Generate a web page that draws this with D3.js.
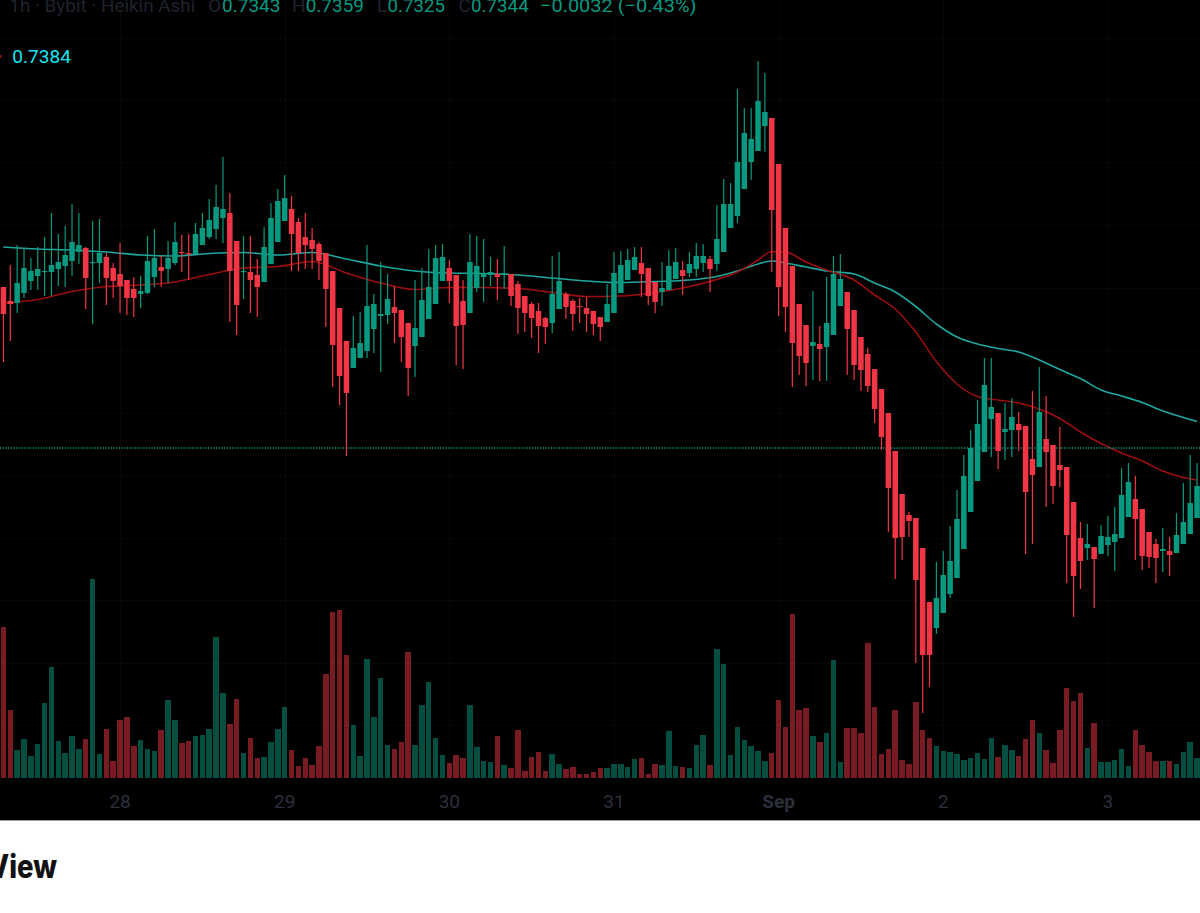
<!DOCTYPE html>
<html><head><meta charset="utf-8">
<script src="https://cdn.jsdelivr.net/npm/d3@7"></script>
<style>html,body{margin:0;padding:0;background:#fff;overflow:hidden} svg{display:block}</style>
</head><body>
<svg id="c" width="1200" height="913"></svg>
<script>
// ---- Heikin Ashi 1h candles (price) ----
const open = [0.7505,0.7491,0.7489,0.7499,0.7511,0.7516,0.7520,0.7520,0.7523,0.7526,0.7531,0.7540,0.7544,0.7529,0.7529,0.7535,0.7524,0.7518,0.7512,0.7503,
0.7498,0.7499,0.7515,0.7525,0.7523,0.7529,0.7540,0.7539,0.7538,0.7547,0.7555,0.7563,0.7574,0.7579,0.7551,0.7520,0.7520,0.7517,0.7510,0.7528,
0.7550,0.7571,0.7583,0.7570,0.7555,0.7552,0.7548,0.7539,0.7521,0.7484,0.7451,0.7424,0.7434,0.7441,0.7463,0.7476,0.7477,0.7485,0.7482,0.7469,
0.7446,0.7455,0.7473,0.7488,0.7511,0.7524,0.7517,0.7491,0.7479,0.7504,0.7515,0.7517,0.7518,0.7517,0.7518,0.7508,0.7496,0.7488,0.7481,0.7474,
0.7469,0.7483,0.7498,0.7491,0.7486,0.7484,0.7481,0.7475,0.7470,0.7479,0.7499,0.7512,0.7522,0.7529,0.7524,0.7510,0.7500,0.7502,0.7513,0.7522,
0.7519,0.7523,0.7529,0.7533,0.7528,0.7540,0.7564,0.7576,0.7603,0.7630,0.7641,0.7666,0.7674,0.7628,0.7564,0.7526,0.7488,0.7467,0.7446,0.7448,
0.7445,0.7457,0.7486,0.7500,0.7482,0.7455,0.7438,0.7423,0.7403,0.7379,0.7341,0.7298,0.7277,0.7274,0.7244,0.7190,0.7164,0.7179,0.7198,0.7214,
0.7243,0.7280,0.7311,0.7340,0.7373,0.7379,0.7360,0.7362,0.7368,0.7366,0.7333,0.7325,0.7353,0.7347,0.7327,0.7325,0.7290,0.7254,0.7244,0.7245,
0.7238,0.7247,0.7250,0.7254,0.7275,0.7293,0.7283,0.7260,0.7248,0.7241,0.7241,0.7239,0.7248,0.7258,0.7274];
const high = [0.7505,0.7527,0.7547,0.7544,0.7534,0.7545,0.7555,0.7579,0.7558,0.7566,0.7588,0.7579,0.7545,0.7571,0.7573,0.7539,0.7529,0.7549,0.7512,0.7515,
0.7516,0.7556,0.7563,0.7536,0.7551,0.7570,0.7557,0.7558,0.7569,0.7579,0.7593,0.7607,0.7635,0.7599,0.7551,0.7556,0.7556,0.7533,0.7565,0.7589,
0.7603,0.7617,0.7596,0.7574,0.7579,0.7564,0.7550,0.7539,0.7521,0.7484,0.7451,0.7476,0.7480,0.7547,0.7498,0.7530,0.7518,0.7506,0.7482,0.7469,
0.7512,0.7524,0.7543,0.7547,0.7548,0.7532,0.7517,0.7512,0.7558,0.7556,0.7553,0.7535,0.7533,0.7546,0.7518,0.7511,0.7496,0.7490,0.7489,0.7475,
0.7536,0.7540,0.7500,0.7493,0.7494,0.7495,0.7481,0.7475,0.7508,0.7540,0.7541,0.7543,0.7545,0.7545,0.7524,0.7510,0.7530,0.7542,0.7544,0.7531,
0.7540,0.7549,0.7548,0.7536,0.7587,0.7613,0.7609,0.7703,0.7684,0.7684,0.7731,0.7719,0.7674,0.7628,0.7564,0.7526,0.7488,0.7467,0.7501,0.7466,
0.7515,0.7536,0.7538,0.7500,0.7482,0.7455,0.7444,0.7423,0.7403,0.7379,0.7341,0.7298,0.7280,0.7274,0.7244,0.7190,0.7230,0.7241,0.7266,0.7302,
0.7337,0.7362,0.7392,0.7434,0.7434,0.7379,0.7389,0.7394,0.7380,0.7366,0.7401,0.7425,0.7396,0.7347,0.7365,0.7325,0.7290,0.7270,0.7268,0.7245,
0.7267,0.7276,0.7285,0.7324,0.7329,0.7316,0.7283,0.7260,0.7253,0.7264,0.7255,0.7279,0.7309,0.7337,0.7329];
const low = [0.7430,0.7451,0.7479,0.7494,0.7502,0.7502,0.7496,0.7496,0.7506,0.7505,0.7516,0.7528,0.7483,0.7468,0.7509,0.7487,0.7494,0.7479,0.7477,0.7475,
0.7484,0.7498,0.7505,0.7505,0.7509,0.7527,0.7520,0.7512,0.7538,0.7547,0.7553,0.7553,0.7549,0.7470,0.7457,0.7493,0.7479,0.7475,0.7510,0.7528,
0.7550,0.7571,0.7521,0.7521,0.7523,0.7523,0.7512,0.7465,0.7405,0.7387,0.7336,0.7424,0.7434,0.7434,0.7439,0.7420,0.7468,0.7449,0.7430,0.7396,
0.7415,0.7455,0.7473,0.7488,0.7511,0.7489,0.7427,0.7423,0.7479,0.7500,0.7490,0.7506,0.7492,0.7503,0.7486,0.7458,0.7460,0.7454,0.7439,0.7448,
0.7459,0.7483,0.7473,0.7461,0.7469,0.7460,0.7457,0.7451,0.7470,0.7479,0.7499,0.7512,0.7522,0.7495,0.7487,0.7479,0.7486,0.7502,0.7513,0.7497,
0.7515,0.7515,0.7520,0.7500,0.7521,0.7540,0.7564,0.7569,0.7603,0.7612,0.7641,0.7640,0.7520,0.7476,0.7460,0.7405,0.7417,0.7406,0.7412,0.7411,
0.7411,0.7457,0.7486,0.7417,0.7412,0.7401,0.7400,0.7369,0.7342,0.7260,0.7213,0.7232,0.7255,0.7129,0.7079,0.7105,0.7158,0.7179,0.7194,0.7214,
0.7243,0.7280,0.7311,0.7340,0.7335,0.7323,0.7332,0.7335,0.7341,0.7238,0.7248,0.7325,0.7285,0.7288,0.7305,0.7209,0.7175,0.7203,0.7232,0.7184,
0.7238,0.7236,0.7221,0.7254,0.7275,0.7232,0.7222,0.7224,0.7209,0.7220,0.7216,0.7239,0.7248,0.7258,0.7274];
const close = [0.7478,0.7488,0.7509,0.7524,0.7521,0.7523,0.7521,0.7527,0.7530,0.7537,0.7550,0.7547,0.7514,0.7530,0.7539,0.7514,0.7511,0.7506,0.7494,0.7494,
0.7501,0.7531,0.7534,0.7521,0.7534,0.7550,0.7539,0.7538,0.7558,0.7564,0.7572,0.7585,0.7583,0.7521,0.7487,0.7521,0.7512,0.7505,0.7545,0.7574,
0.7591,0.7594,0.7558,0.7539,0.7547,0.7543,0.7531,0.7503,0.7447,0.7416,0.7399,0.7444,0.7449,0.7486,0.7488,0.7478,0.7493,0.7479,0.7455,0.7424,
0.7464,0.7492,0.7505,0.7534,0.7535,0.7511,0.7466,0.7467,0.7530,0.7526,0.7519,0.7520,0.7515,0.7519,0.7496,0.7484,0.7479,0.7474,0.7466,0.7465,
0.7498,0.7511,0.7485,0.7478,0.7485,0.7478,0.7468,0.7465,0.7488,0.7519,0.7527,0.7532,0.7535,0.7518,0.7496,0.7490,0.7504,0.7526,0.7530,0.7516,
0.7528,0.7536,0.7536,0.7523,0.7553,0.7588,0.7588,0.7630,0.7659,0.7653,0.7691,0.7680,0.7582,0.7505,0.7485,0.7449,0.7436,0.7429,0.7450,0.7443,
0.7469,0.7518,0.7513,0.7463,0.7427,0.7422,0.7406,0.7383,0.7355,0.7304,0.7254,0.7255,0.7271,0.7212,0.7137,0.7137,0.7194,0.7217,0.7231,0.7273,
0.7316,0.7344,0.7368,0.7407,0.7385,0.7341,0.7363,0.7375,0.7362,0.7300,0.7317,0.7380,0.7340,0.7306,0.7322,0.7257,0.7216,0.7231,0.7248,0.7233,
0.7256,0.7255,0.7258,0.7297,0.7310,0.7273,0.7236,0.7235,0.7234,0.7243,0.7237,0.7257,0.7270,0.7289,0.7306];
// volume (thousands)
const volume = [1507,680,280,387,220,340,747,1107,370,247,420,290,387,1987,240,490,173,580,610,317,
377,287,270,483,780,580,353,370,423,430,490,1407,853,537,793,253,397,203,210,357,
490,710,280,120,203,130,323,1043,1660,1680,1227,530,220,1190,610,1000,330,287,357,1257,
330,727,960,400,233,150,233,197,733,310,173,163,423,130,103,483,73,210,263,73,
240,137,90,110,40,40,60,97,97,143,137,110,187,197,40,143,130,470,120,110,
97,330,430,130,1293,1137,233,513,377,317,270,167,250,780,507,1637,680,697,420,360,
453,1177,157,497,497,453,1347,707,237,287,680,180,143,757,483,400,323,270,263,240,
180,197,250,190,400,210,330,277,220,387,580,447,277,150,483,900,770,847,300,550,
157,157,180,287,120,477,330,263,167,173,167,143,257,357,197];
// moving averages read at sample bars
const maIdx = [0,5,10,15,20,25,30,35,40,45,50,55,60,65,70,75,80,85,90,95,100,104,107,110,112,114,117,120,124,127,130,133,136,139,142,145,148,151,154,157,160,163,166,169,172,174];
const maSlow = [0.7545,0.7543,0.7542,0.7540,0.7537,0.7536,0.75385,0.75395,0.7537,0.75395,0.7533,0.7526,0.7521,0.7519,0.75185,0.7517,0.7514,0.7511,0.75095,0.75105,
0.7512,0.75155,0.7521,0.7528,0.7531,0.7529,0.7525,0.7521,0.7518,0.7509,0.7500,0.74855,0.7468,0.7455,0.7448,0.74435,0.7440,0.7432,0.74225,0.74135,0.7402,0.7396,0.73895,0.7381,0.73745,0.73705];
const maFast = [0.7489,0.74925,0.75005,0.75055,0.7507,0.7510,0.75175,0.7524,0.75255,0.75305,0.7519,0.7509,0.75025,0.75045,0.75045,0.75035,0.74995,0.74955,0.7496,0.74995,
0.75055,0.75125,0.7520,0.7532,0.75405,0.7540,0.7530,0.7522,0.7512,0.7497,0.7483,0.7460,0.74305,0.7408,0.73955,0.7392,0.7389,0.7383,0.73735,0.7360,0.73485,0.7339,0.7331,0.7321,0.73145,0.7312];
const dayTickIdx = [17,41,65,89,113,137,161];
const dayTickLabels = ["28","29","30","31","Sep","2","3"];
const gridLevels = [0.77545,0.7692,0.76295,0.7567,0.75045,0.7442,0.73795,0.7317,0.72545,0.7192,0.71295,0.7067];
const lastPrice = 0.7344;
const legendValue = "0.7384";
const headerInfo = "1h · Bybit · Heikin Ashi";
const ohlcLabels = ["O","H","L","C"];
const ohlcValues = ["0.7343","0.7359","0.7325","0.7344"];
const changeText = "−0.0032 (−0.43%)";

const UP = "#089981", DOWN = "#f23645";
const svg = d3.select("#c");
const N = open.length;

const x = d3.scaleBand().domain(d3.range(N)).range([0, 1200.5]).paddingInner(0.2).paddingOuter(0.1);
const bw = x.bandwidth();
const cx = i => x(i) + bw / 2;
const y = d3.scaleLinear().domain([0.7102, 0.7732]).range([690, 60]);
const vy = d3.scaleLinear().domain([0, 2000]).range([778, 578]);

// backgrounds
svg.append("rect").attr("x",0).attr("y",0).attr("width",1200).attr("height",820).attr("fill","#000");
svg.append("rect").attr("x",0).attr("y",820).attr("width",1200).attr("height",93).attr("fill","#fff");
svg.append("line").attr("x1",0).attr("x2",1200).attr("y1",820.5).attr("y2",820.5).attr("stroke","#9a9a9a").attr("stroke-width",1);

// grid (barely visible)
const grid = svg.append("g").attr("stroke","#070707").attr("stroke-width",1);
grid.selectAll("line.h").data(gridLevels).join("line").attr("class","h")
  .attr("x1",0).attr("x2",1200).attr("y1",d=>Math.round(y(d))+0.5).attr("y2",d=>Math.round(y(d))+0.5);
grid.selectAll("line.v").data(dayTickIdx).join("line").attr("class","v")
  .attr("x1",d=>Math.round(cx(d))+0.5).attr("x2",d=>Math.round(cx(d))+0.5).attr("y1",0).attr("y2",780);

// volume
svg.append("g").selectAll("rect").data(volume).join("rect")
  .attr("x",(d,i)=>x(i)).attr("width",bw)
  .attr("y",d=>vy(d)).attr("height",d=>778-vy(d))
  .attr("fill",(d,i)=> close[i] >= open[i] ? UP : DOWN).attr("fill-opacity",0.5)
  .attr("shape-rendering","crispEdges");

// moving averages
const maLine = d3.line().x(d=>cx(d[0])).y(d=>y(d[1])).curve(d3.curveMonotoneX);
svg.append("path").datum(maIdx.map((d,k)=>[d,maSlow[k]])).attr("d",maLine)
  .attr("fill","none").attr("stroke","#1ea69f").attr("stroke-width",1.6);
svg.append("path").datum(maIdx.map((d,k)=>[d,maFast[k]])).attr("d",maLine)
  .attr("fill","none").attr("stroke","#9c0e0e").attr("stroke-width",1.6);

// last price line
svg.append("line").attr("x1",0).attr("x2",1200).attr("y1",y(lastPrice)).attr("y2",y(lastPrice))
  .attr("stroke",UP).attr("stroke-width",1.5).attr("stroke-dasharray","1.3 1.4");

// candles
const cg = svg.append("g");
const candles = cg.selectAll("g").data(d3.range(N)).join("g")
  .attr("fill",i=> close[i] >= open[i] ? UP : DOWN)
  .attr("stroke",i=> close[i] >= open[i] ? UP : DOWN);
candles.append("line")
  .attr("x1",i=>cx(i)).attr("x2",i=>cx(i))
  .attr("y1",i=>y(high[i])).attr("y2",i=>y(low[i])).attr("stroke-width",1.2);
candles.append("rect")
  .attr("x",i=>x(i)).attr("width",bw)
  .attr("y",i=>y(Math.max(open[i],close[i])))
  .attr("height",i=>Math.max(1.2, Math.abs(y(open[i])-y(close[i]))))
  .attr("stroke","none");

// x axis
const axis = d3.axisBottom(x).tickValues(dayTickIdx).tickFormat(d=>dayTickLabels[dayTickIdx.indexOf(d)]).tickSize(0).tickPadding(0);
const ax = svg.append("g").attr("transform","translate(0,794)").call(axis);
ax.select(".domain").remove();
ax.selectAll("text").attr("fill","#2c303c").attr("font-family","Roboto, sans-serif").attr("font-size",19)
  .attr("dy","0.71em").attr("font-weight",d=>dayTickLabels[dayTickIdx.indexOf(d)]==="Sep"?700:400);

// header
const hf = "Roboto, sans-serif";
function txt(s, x0, y0, w, fill, size, weight){
  const t = svg.append("text").attr("x",x0).attr("y",y0).text(s).attr("fill",fill)
    .attr("font-family",hf).attr("font-size",size).attr("font-weight",weight||400);
  if (w) t.attr("textLength",w).attr("lengthAdjust","spacingAndGlyphs");
  return t;
}
const HY = 11.7, HS = 18.7, DIM = "#1f232e";
txt(headerInfo, 9.3, HY, 186, DIM, HS);
const lx = [208.3,292,377,458.4], vx = [222,305.7,387.6,471], vw = [58.5,58.3,57.4,57.7];
ohlcLabels.forEach((l,k)=>{ txt(l, lx[k], HY, null, DIM, HS); txt(ohlcValues[k], vx[k], HY, vw[k], UP, HS); });
txt(changeText, 540, HY, 156.5, UP, HS);
txt(legendValue, 12.3, 63.3, 58.7, "#16e4f4", HS);
svg.append("rect").attr("x",0).attr("y",55).attr("width",1.5).attr("height",3).attr("fill","#8a1a1a");

// watermark text below chart (only its tail is inside the frame)
const wm = svg.append("text").attr("x",0).attr("y",878).text("TradingView")
  .attr("fill","#111").attr("font-family","Inter, 'Open Sans', sans-serif").attr("font-weight",800).attr("font-size",32);
{
  const node = wm.node();
  const L = node.getComputedTextLength();
  const f = 0.86;
  wm.attr("textLength", L*f).attr("lengthAdjust","spacingAndGlyphs").attr("x", 57 - L*f);
}
</script>
</body></html>
